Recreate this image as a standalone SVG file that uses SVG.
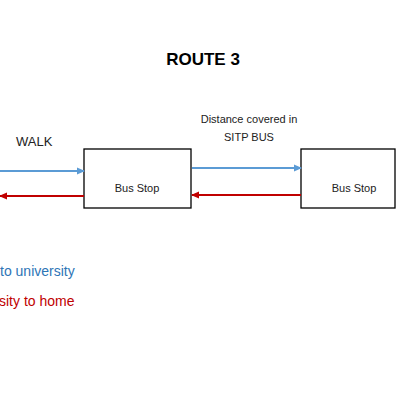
<svg xmlns="http://www.w3.org/2000/svg" width="400" height="400" viewBox="0 0 400 400">
<style>
text{font-family:"Liberation Sans",Arial,sans-serif;}
.box{fill:#fff;stroke:#000;stroke-width:1.3;}
.lbl{font-size:11px;fill:#222;text-anchor:middle;}
.blue{stroke:#5b9bd5;stroke-width:2;fill:none;}
.red{stroke:#c00000;stroke-width:2;fill:none;}
</style>
<defs>
<marker id="ab" markerWidth="8" markerHeight="8" refX="7" refY="4" orient="auto" markerUnits="userSpaceOnUse"><path d="M0,0.5 L8,4 L0,7.5 Z" fill="#5b9bd5"/></marker>
<marker id="ar" markerWidth="8" markerHeight="8" refX="7" refY="4" orient="auto" markerUnits="userSpaceOnUse"><path d="M0,0.5 L8,4 L0,7.5 Z" fill="#c00000"/></marker>
</defs>
<rect width="400" height="400" fill="#fff"/>
<text x="203" y="65" font-size="17" font-weight="bold" text-anchor="middle" fill="#000">ROUTE 3</text>
<text x="16" y="146" font-size="13" fill="#222">WALK</text>
<text x="249" y="123" class="lbl">Distance covered in</text>
<text x="249" y="141" class="lbl">SITP BUS</text>
<g id="stop1"><rect class="box" x="84" y="149" width="107" height="59"/><text x="137" y="192" class="lbl">Bus Stop</text></g>
<g id="stop2"><rect class="box" x="301" y="149" width="94" height="59"/><text x="354" y="192" class="lbl">Bus Stop</text></g>
<g id="connectors">
<line class="blue" x1="0" y1="171" x2="84" y2="171" marker-end="url(#ab)"/>
<line class="red" x1="84" y1="196" x2="0" y2="196" marker-end="url(#ar)"/>
<line class="blue" x1="192" y1="168" x2="301" y2="168" marker-end="url(#ab)"/>
<line class="red" x1="301" y1="195" x2="192" y2="195" marker-end="url(#ar)"/>
</g>
<text x="0" y="276" font-size="14" fill="#2e75b6">to university</text>
<text x="-1" y="306" font-size="14" fill="#c00000">sity to home</text>
</svg>
